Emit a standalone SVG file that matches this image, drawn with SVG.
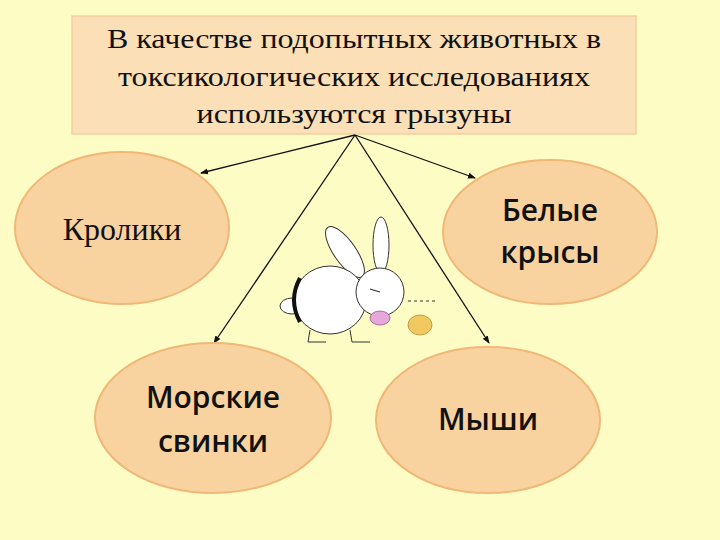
<svg xmlns="http://www.w3.org/2000/svg" width="720" height="540" viewBox="0 0 720 540">
<style>
.node{fill:#f9d39f;stroke:#f0b877;stroke-width:2}
.lbl{font-family:"Open Sans","DejaVu Sans",sans-serif;font-weight:600;font-size:30px;fill:#111;text-anchor:middle}
.ser{font-family:"Liberation Serif",serif;fill:#111;text-anchor:middle}
.con{stroke:#111;stroke-width:1.3;fill:none;marker-end:url(#ar)}
.rb{fill:#fff;stroke:#333;stroke-width:1}
</style>
<defs><marker id="ar" markerWidth="8" markerHeight="8" refX="7" refY="4" orient="auto" markerUnits="userSpaceOnUse"><path d="M0,1 L8,4 L0,7 Z" fill="#111"/></marker></defs>
<rect width="720" height="540" fill="#fdfcc5"/>
<g id="top"><rect x="72" y="16" width="564" height="118" fill="#fbdfb6" stroke="#f3cfa0" stroke-width="1.5"/>
<text class="ser" font-size="28"><tspan x="354" y="48" textLength="494" lengthAdjust="spacingAndGlyphs">В качестве подопытных животных в</tspan><tspan x="354" y="86" textLength="472" lengthAdjust="spacingAndGlyphs">токсикологических исследованиях</tspan><tspan x="354" y="123" textLength="315" lengthAdjust="spacingAndGlyphs">используются грызуны</tspan></text></g>
<g id="connectors">
<line class="con" x1="355" y1="135" x2="201" y2="173"/>
<line class="con" x1="355" y1="135" x2="475" y2="178"/>
<line class="con" x1="355" y1="135" x2="214" y2="343"/>
<line class="con" x1="355" y1="135" x2="489" y2="343"/>
</g>
<g id="rabbit">
<ellipse class="rb" cx="345" cy="252" rx="11" ry="30" transform="rotate(-35 345 252)"/>
<ellipse class="rb" cx="381" cy="245" rx="8" ry="28"/>
<ellipse class="rb" cx="292" cy="306" rx="12" ry="8"/>
<ellipse class="rb" cx="330" cy="300" rx="36" ry="34"/>
<ellipse class="rb" cx="380" cy="292" rx="24" ry="24"/>
<path d="M300,278 Q288,300 300,322" stroke="#111" stroke-width="4" fill="none"/>
<path d="M310,330 l-2,12 h18 M350,330 l2,12 h18" stroke="#333" stroke-width="1" fill="none"/>
<ellipse cx="380" cy="318" rx="10" ry="7" fill="#e6a8d8" stroke="#a05090" stroke-width="0.8"/>
<ellipse cx="420" cy="325" rx="12" ry="10" fill="#f2c860" stroke="#b08a30" stroke-width="0.8"/>
<path d="M370,289 l10,3" stroke="#333" stroke-width="1.2"/>
<path d="M408,301 h30" stroke="#333" stroke-width="1" stroke-dasharray="3 3"/>
</g>
<g id="n1"><ellipse class="node" cx="122" cy="228" rx="107" ry="76"/><text class="ser" style="font-size:32px" x="122" y="240">Кролики</text></g>
<g id="n2"><ellipse class="node" cx="550" cy="232" rx="107" ry="72"/><text class="lbl"><tspan x="550" y="221">Белые</tspan><tspan x="550" y="263">крысы</tspan></text></g>
<g id="n3"><ellipse class="node" cx="213" cy="418" rx="118" ry="75"/><text class="lbl"><tspan x="213" y="408">Морские</tspan><tspan x="213" y="452">свинки</tspan></text></g>
<g id="n4"><ellipse class="node" cx="488" cy="420" rx="112" ry="73"/><text class="lbl"><tspan x="488" y="430">Мыши</tspan></text></g>
</svg>
